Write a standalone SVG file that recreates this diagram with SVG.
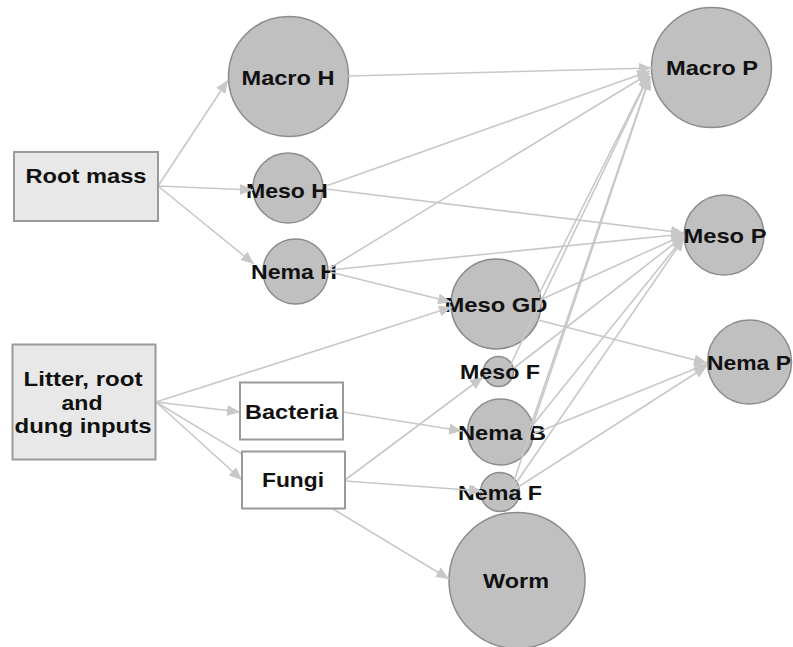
<svg xmlns="http://www.w3.org/2000/svg" width="793" height="647" viewBox="0 0 793 647">
  <style>
    .circ { fill: #c0c0c0; stroke: #8c8c8c; stroke-width: 1.5; }
    .src { fill: #e8e8e8; stroke: #9a9a9a; stroke-width: 2; }
    .mid { fill: #ffffff; stroke: #9a9a9a; stroke-width: 2; }
    .lbl { font-family: "Liberation Sans", Arial, sans-serif; font-weight: bold; font-size: 21px; fill: #111111; text-anchor: middle; dominant-baseline: central; }
    .edge { stroke: #c8c8c8; stroke-width: 1.6; fill: none; marker-end: url(#arr); }
  </style>
  <defs>
    <marker id="arr" markerUnits="userSpaceOnUse" markerWidth="13" markerHeight="11" refX="13" refY="5.5" orient="auto">
      <path d="M0,0 L13,5.5 L0,11 z" fill="#c8c8c8"/>
    </marker>
  </defs>
  <rect width="793" height="647" fill="#ffffff"/>

  <!-- consumer nodes (circles) -->
  <g id="macro-h"><circle class="circ" cx="288.5" cy="76.5" r="60"/><text class="lbl" x="288" y="77" textLength="93" lengthAdjust="spacingAndGlyphs">Macro H</text></g>
  <g id="meso-h"><circle class="circ" cx="288" cy="188" r="35"/><text class="lbl" x="287" y="190" textLength="82" lengthAdjust="spacingAndGlyphs">Meso H</text></g>
  <g id="nema-h"><circle class="circ" cx="295.5" cy="271.5" r="32.5"/><text class="lbl" x="294" y="271" textLength="86" lengthAdjust="spacingAndGlyphs">Nema H</text></g>
  <g id="macro-p"><circle class="circ" cx="711.5" cy="67.5" r="60"/><text class="lbl" x="712" y="67" textLength="92" lengthAdjust="spacingAndGlyphs">Macro P</text></g>
  <g id="meso-p"><circle class="circ" cx="724" cy="235" r="40"/><text class="lbl" x="725" y="235" textLength="83" lengthAdjust="spacingAndGlyphs">Meso P</text></g>
  <g id="meso-gd"><circle class="circ" cx="496" cy="304" r="45"/><text class="lbl" x="496" y="304" textLength="103" lengthAdjust="spacingAndGlyphs">Meso GD</text></g>
  <g id="meso-f"><circle class="circ" cx="498.5" cy="371.5" r="15"/><text class="lbl" x="500" y="371" textLength="80" lengthAdjust="spacingAndGlyphs">Meso F</text></g>
  <g id="nema-b"><circle class="circ" cx="500.5" cy="432" r="33"/><text class="lbl" x="502" y="432" textLength="88" lengthAdjust="spacingAndGlyphs">Nema B</text></g>
  <g id="nema-f"><circle class="circ" cx="500" cy="492" r="19.5"/><text class="lbl" x="500" y="492" textLength="84" lengthAdjust="spacingAndGlyphs">Nema F</text></g>
  <g id="nema-p"><circle class="circ" cx="749.5" cy="362" r="42"/><text class="lbl" x="749" y="362" textLength="84" lengthAdjust="spacingAndGlyphs">Nema P</text></g>
  <g id="worm"><circle class="circ" cx="517" cy="580.5" r="68"/><text class="lbl" x="516" y="580" textLength="66" lengthAdjust="spacingAndGlyphs">Worm</text></g>

  <!-- connectors -->
  <g id="connectors">
    <line class="edge" x1="158" y1="186" x2="228" y2="80"/>
    <line class="edge" x1="158" y1="186" x2="253" y2="190"/>
    <line class="edge" x1="158" y1="186" x2="254" y2="264"/>
    <line class="edge" x1="348" y1="76" x2="652" y2="68"/>
    <line class="edge" x1="326" y1="186" x2="650" y2="71"/>
    <line class="edge" x1="326" y1="189" x2="684" y2="233"/>
    <line class="edge" x1="330" y1="268" x2="650" y2="73"/>
    <line class="edge" x1="330" y1="270" x2="684" y2="234"/>
    <line class="edge" x1="330" y1="272" x2="451" y2="302"/>
    <line class="edge" x1="156" y1="402" x2="452" y2="307"/>
    <line class="edge" x1="156" y1="402" x2="240" y2="412"/>
    <line class="edge" x1="156" y1="402" x2="242" y2="480"/>
    <line class="edge" x1="156" y1="402" x2="449" y2="579"/>
    <line class="edge" x1="343" y1="412" x2="462" y2="431"/>
    <line class="edge" x1="345" y1="480" x2="483" y2="377"/>
    <line class="edge" x1="345" y1="481" x2="482" y2="491"/>
    <line class="edge" x1="538" y1="296" x2="649" y2="75"/>
    <line class="edge" x1="540" y1="300" x2="684" y2="235"/>
    <line class="edge" x1="538" y1="320" x2="707" y2="363"/>
    <line class="edge" x1="510" y1="366" x2="649" y2="76"/>
    <line class="edge" x1="514" y1="368" x2="684" y2="236"/>
    <line class="edge" x1="530" y1="428" x2="650" y2="76"/>
    <line class="edge" x1="532" y1="426" x2="684" y2="237"/>
    <line class="edge" x1="533" y1="434" x2="707" y2="364"/>
    <line class="edge" x1="512" y1="487" x2="650" y2="77"/>
    <line class="edge" x1="514" y1="486" x2="684" y2="238"/>
    <line class="edge" x1="515" y1="489" x2="707" y2="366"/>
  </g>

  <!-- resource nodes (boxes) -->
  <g id="root-mass"><rect class="src" x="14" y="152" width="144" height="69"/><text class="lbl" x="86" y="175" textLength="121" lengthAdjust="spacingAndGlyphs">Root mass</text></g>
  <g id="litter"><rect class="src" x="12.5" y="344.5" width="143" height="115"/>
    <text class="lbl" x="83" y="378" textLength="119" lengthAdjust="spacingAndGlyphs">Litter, root</text>
    <text class="lbl" x="82" y="402" textLength="41" lengthAdjust="spacingAndGlyphs">and</text>
    <text class="lbl" x="83" y="425" textLength="137" lengthAdjust="spacingAndGlyphs">dung inputs</text>
  </g>
  <g id="bacteria"><rect class="mid" x="240" y="382.5" width="103" height="57"/><text class="lbl" x="291.5" y="411" textLength="93" lengthAdjust="spacingAndGlyphs">Bacteria</text></g>
  <g id="fungi"><rect class="mid" x="242" y="451.5" width="103" height="57"/><text class="lbl" x="293" y="479" textLength="62" lengthAdjust="spacingAndGlyphs">Fungi</text></g>
</svg>
